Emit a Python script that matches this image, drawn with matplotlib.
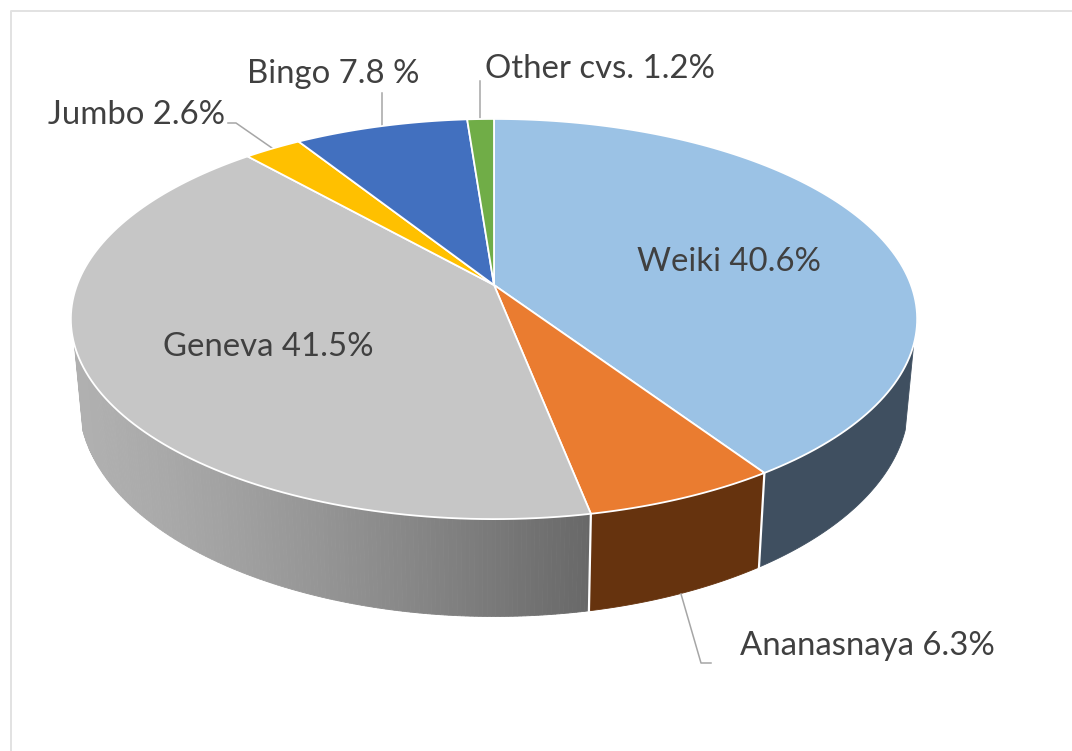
import matplotlib; matplotlib.use('Agg')
import matplotlib.pyplot as plt
import numpy as np

plt.rcParams['font.family'] = ['Lato', 'DejaVu Sans']

labels = ['Weiki 40.6%', 'Ananasnaya 6.3%', 'Geneva 41.5%', 'Jumbo 2.6%', 'Bingo 7.8 %', 'Other cvs. 1.2%']
shares = [40.6, 6.3, 41.5, 2.6, 7.8, 1.2]
top_colors = ['#9bc2e5', '#ea7c30', '#c6c6c6', '#ffc000', '#4270bf', '#70ad47']
wall_colors = ['#3f4f60', '#66330e', None, '#7f6000', '#2f5597', '#4e7a31']

# label anchors in image pixels
label_pos = [(729, 262), (867, 646), (268, 347), (137, 115), (333, 74), (600, 69)]
# leader lines
leaders = [
    [(681, 594), (701, 663), (711, 663)],
    [(272, 148), (236, 123), (228, 123)],
    [(382, 126), (382, 93)],
    [(480, 118), (480, 81)],
]

CX, CY = 494, 285
A, B, K = 417, 194.3, 0.17
WALL_FROM, WALL_TO = np.deg2rad(107), np.deg2rad(253)
TEXT = '#404040'


def rim(t):
    # t is clockwise from 12 o'clock, perspective projection of the unit circle
    w = 1 + K * np.cos(t)
    return CX + A * np.sin(t) / w, CY - B * np.cos(t) / w


def rim_low(t):
    x, y = rim(t)
    return CX + (x - CX) * 0.98, CY + (y - CY) * 1.07 + 81


def gray_at(x):
    # wall shading of the large slice goes dark towards the right
    f = np.clip((x - 75) / (590 - 75), 0, 1)
    v = 176 - 72 * f ** 1.3
    return (v / 255, v / 255, v / 255)


fig = plt.figure(figsize=(10.72, 7.51), dpi=100)
ax = fig.add_axes([0, 0, 1, 1])
ax.set_xlim(0, 1072)
ax.set_ylim(751, 0)
ax.axis('off')

# frame of the original chart
ax.plot([10.5, 10.5, 1072], [751, 10.5, 10.5], color='#e2e2e2', lw=1.4)

edges = np.deg2rad(np.cumsum([0] + shares) * 3.6)

# side walls, front part only
for i in range(len(shares)):
    t0, t1 = edges[i], edges[i + 1]
    lo, hi = max(t0, WALL_FROM), min(t1, WALL_TO)
    if lo >= hi:
        continue
    ts = np.linspace(lo, hi, int(np.degrees(hi - lo)) * 2 + 2)
    if wall_colors[i]:
        xt, yt = rim(ts)
        xl, yl = rim_low(ts[::-1])
        ax.fill(np.r_[xt, xl], np.r_[yt, yl], color=wall_colors[i], lw=0.6, zorder=2)
    else:
        for a, b in zip(ts[:-1], ts[1:]):
            xa, ya = rim(a)
            xb, yb = rim(b)
            xc, yc = rim_low(b)
            xd, yd = rim_low(a)
            ax.fill([xa, xb, xc, xd], [ya, yb, yc, yd], color=gray_at((xa + xb) / 2), lw=0.6, zorder=2)
    # white seam between walls
    if WALL_FROM <= t0 <= WALL_TO:
        xa, ya = rim(t0)
        xd, yd = rim_low(t0)
        ax.plot([xa, xd], [ya, yd], color='white', lw=1.6, zorder=3)

# top faces
for i in range(len(shares)):
    ts = np.linspace(edges[i], edges[i + 1], 120)
    xs, ys = rim(ts)
    ax.fill(np.r_[CX, xs], np.r_[CY, ys], facecolor=top_colors[i], edgecolor='white',
            lw=1.3, joinstyle='round', zorder=4)

for pts in leaders:
    ax.plot(*zip(*pts), color='#a6a6a6', lw=1.1, zorder=3)

for lab, (x, y) in zip(labels, label_pos):
    ax.text(x, y, lab, ha='center', va='center', fontsize=23.7, color=TEXT, zorder=5)

fig.savefig('out.png', dpi=100)
